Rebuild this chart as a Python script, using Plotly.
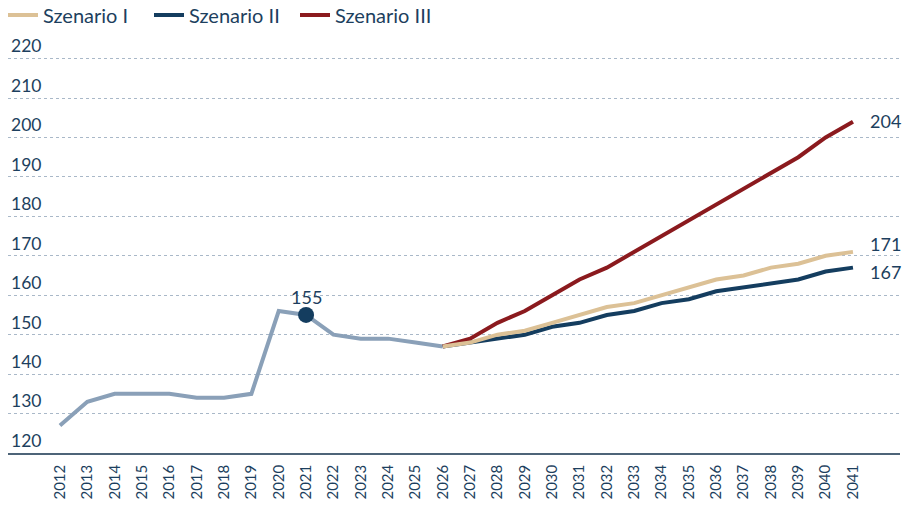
import plotly.graph_objects as go

hist_years = list(range(2012, 2027))
hist_values = [127, 133, 135, 135, 135, 134, 134, 135, 156, 155, 150, 149, 149, 148, 147]

scen_years = list(range(2026, 2042))
scen_I = [147, 148, 150, 151, 153, 155, 157, 158, 160, 162, 164, 165, 167, 168, 170, 171]
scen_II = [147, 148, 149, 150, 152, 153, 155, 156, 158, 159, 161, 162, 163, 164, 166, 167]
scen_III = [147, 149, 153, 156, 160, 164, 167, 171, 175, 179, 183, 187, 191, 195, 200, 204]

x_ticks = list(range(2012, 2042))
y_ticks = list(range(120, 221, 10))

TEXT = "#1d3f5e"
FONT = "Lato"
C_HIST = "#8aa0b8"
C_I = "#dcc196"
C_II = "#143d5f"
C_III = "#8b1a1e"

fig = go.Figure()
fig.add_trace(go.Scatter(x=hist_years, y=hist_values, mode="lines",
                         line=dict(color=C_HIST, width=4), showlegend=False, hoverinfo="skip"))
fig.add_trace(go.Scatter(x=scen_years, y=scen_II, mode="lines", name="Szenario II",
                         line=dict(color=C_II, width=4), legendrank=2))
fig.add_trace(go.Scatter(x=scen_years, y=scen_III, mode="lines", name="Szenario III",
                         line=dict(color=C_III, width=4), legendrank=3))
fig.add_trace(go.Scatter(x=scen_years, y=scen_I, mode="lines", name="Szenario I",
                         line=dict(color=C_I, width=4), legendrank=1))
# highlight 2021
fig.add_trace(go.Scatter(x=[hist_years[9]], y=[hist_values[9]], mode="markers",
                         marker=dict(color=C_II, size=16),
                         showlegend=False, hoverinfo="skip"))
fig.add_annotation(x=hist_years[9], y=hist_values[9], text=str(hist_values[9]),
                   showarrow=False, yshift=18, font=dict(size=18, color=TEXT, family=FONT))

# end labels
for val, ys in [(scen_III[-1], 1), (scen_I[-1], 8), (scen_II[-1], -4)]:
    fig.add_annotation(x=scen_years[-1], y=val, text=str(val), showarrow=False,
                       xanchor="left", xshift=15, yshift=ys,
                       font=dict(size=18, color=TEXT, family=FONT))

fig.update_layout(
    width=903, height=508,
    margin=dict(l=8, r=3, t=31, b=55, autoexpand=False),
    plot_bgcolor="white", paper_bgcolor="white",
    font=dict(family=FONT, color=TEXT),
    legend=dict(orientation="h", x=-0.0056, xanchor="left", y=1.038, yanchor="middle",
                font=dict(size=20, color=TEXT, family=FONT), itemwidth=30,
                entrywidth=101, entrywidthmode="pixels",
                traceorder="normal"),
    xaxis=dict(range=[2010.1, 2042.72], tickmode="array", tickvals=x_ticks,
               ticktext=[str(v) for v in x_ticks], tickangle=-90,
               tickfont=dict(size=15, color=TEXT, family=FONT), automargin=False,
               showgrid=False, zeroline=False, showline=True, linecolor="#4d6478", linewidth=1.5,
               ticks="outside", ticklen=4, tickcolor="rgba(0,0,0,0)"),
    yaxis=dict(range=[120, 227], tickmode="array", tickvals=y_ticks,
               tickfont=dict(size=17.5, color=TEXT, family=FONT), automargin=False,
               ticklabelposition="inside top", showgrid=True, gridcolor="#a9b8c8",
               griddash="dot", gridwidth=1, zeroline=False, showline=False, ticks=""),
)

fig.write_html("out.html", config={"displayModeBar": False},
               post_script="document.body.style.margin='0';document.body.style.overflow='hidden';")
